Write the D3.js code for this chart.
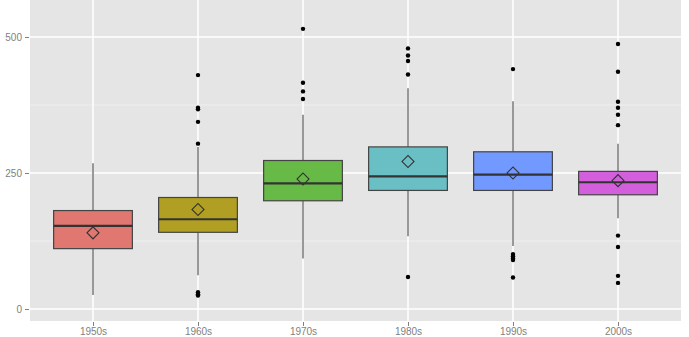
<!DOCTYPE html>
<html>
<head>
<meta charset="utf-8">
<script src="https://cdn.jsdelivr.net/npm/d3@7"></script>
<style>
  body { margin: 0; background: #fff; }
  text { font-family: "Liberation Sans", Arial, sans-serif; }
</style>
</head>
<body>
<div id="chart"></div>
<script>
// data
var decades = ["1950s", "1960s", "1970s", "1980s", "1990s", "2000s"];
var boxColors = ["#E07771", "#B09F22", "#66BA45", "#6ABFC4", "#7199FF", "#D45FDD"];
var lowWhisker = [26, 62, 93, 134, 116, 167];
var q1 = [111, 141, 199, 218, 218, 210];
var medians = [153, 165, 231, 244, 247, 233];
var q3 = [181, 205, 273, 298, 289, 253];
var highWhisker = [268, 298, 357, 406, 382, 304];
var means = [140, 183, 239, 271, 250, 236];
var outliers = [
  [],
  [25, 27, 31, 304, 344, 367, 370, 430],
  [386, 400, 416, 515],
  [59, 431, 456, 466, 479],
  [58, 90, 93, 97, 101, 441],
  [48, 61, 114, 135, 338, 357, 370, 381, 436, 487]
];
var yTicks = [0, 250, 500];
var yMinor = [125, 375];

var width = 689, height = 337;
var margin = {top: 0, right: 8, bottom: 16, left: 30};

var svg = d3.select("#chart").append("svg")
  .attr("width", width)
  .attr("height", height);

var x = d3.scalePoint()
  .domain(decades)
  .range([margin.left, width - margin.right])
  .padding(0.6);

var y = d3.scaleLinear()
  .domain([-22, 568])
  .range([height - margin.bottom, margin.top]);

var boxW = x.step() * 0.75;

// panel background
svg.append("rect")
  .attr("x", margin.left)
  .attr("y", margin.top)
  .attr("width", width - margin.right - margin.left)
  .attr("height", height - margin.bottom - margin.top)
  .attr("fill", "#E5E5E5");

// grid lines
svg.selectAll(".minor")
  .data(yMinor)
  .enter().append("line")
    .attr("x1", margin.left).attr("x2", width - margin.right)
    .attr("y1", function(d) { return y(d); })
    .attr("y2", function(d) { return y(d); })
    .attr("stroke", "#F2F2F2")
    .attr("stroke-width", 0.8);

svg.selectAll(".major")
  .data(yTicks)
  .enter().append("line")
    .attr("x1", margin.left).attr("x2", width - margin.right)
    .attr("y1", function(d) { return y(d); })
    .attr("y2", function(d) { return y(d); })
    .attr("stroke", "#fff")
    .attr("stroke-width", 1.5);

svg.selectAll(".vgrid")
  .data(decades)
  .enter().append("line")
    .attr("x1", function(d) { return x(d); })
    .attr("x2", function(d) { return x(d); })
    .attr("y1", margin.top).attr("y2", height - margin.bottom)
    .attr("stroke", "#fff")
    .attr("stroke-width", 1.5);

// axes
var yAxis = d3.axisLeft(y).tickValues(yTicks).tickSize(4).tickPadding(3);
var gy = svg.append("g")
  .attr("transform", "translate(" + (margin.left - 1) + ",0)")
  .call(yAxis);

var xAxis = d3.axisBottom(x).tickSize(4).tickPadding(2);
var gx = svg.append("g")
  .attr("transform", "translate(0," + (height - margin.bottom + 1) + ")")
  .call(xAxis);

[gx, gy].forEach(function(g) {
  g.select(".domain").remove();
  g.selectAll(".tick line").attr("stroke", "#7F7F7F");
  g.selectAll(".tick text")
    .attr("fill", "#7F7F7F")
    .style("font-size", "10px")
    .style("font-family", "'Liberation Sans', Arial, sans-serif");
});

// boxes
var groups = svg.selectAll(".box")
  .data(decades)
  .enter().append("g")
    .attr("class", "box");

groups.append("line")
  .attr("x1", function(d) { return x(d); })
  .attr("x2", function(d) { return x(d); })
  .attr("y1", function(d, i) { return y(highWhisker[i]); })
  .attr("y2", function(d, i) { return y(q3[i]); })
  .attr("stroke", "#777")
  .attr("stroke-width", 1.5);

groups.append("line")
  .attr("x1", function(d) { return x(d); })
  .attr("x2", function(d) { return x(d); })
  .attr("y1", function(d, i) { return y(q1[i]); })
  .attr("y2", function(d, i) { return y(lowWhisker[i]); })
  .attr("stroke", "#777")
  .attr("stroke-width", 1.5);

groups.append("rect")
  .attr("x", function(d) { return x(d) - boxW / 2; })
  .attr("width", boxW)
  .attr("y", function(d, i) { return y(q3[i]); })
  .attr("height", function(d, i) { return y(q1[i]) - y(q3[i]); })
  .attr("fill", function(d, i) { return boxColors[i]; })
  .attr("stroke", "#444")
  .attr("stroke-width", 1.2);

groups.append("line")
  .attr("x1", function(d) { return x(d) - boxW / 2; })
  .attr("x2", function(d) { return x(d) + boxW / 2; })
  .attr("y1", function(d, i) { return y(medians[i]); })
  .attr("y2", function(d, i) { return y(medians[i]); })
  .attr("stroke", "#333")
  .attr("stroke-width", 2.2);

// outliers
groups.each(function(d, i) {
  d3.select(this).selectAll("circle")
    .data(outliers[i])
    .enter().append("circle")
      .attr("cx", x(d))
      .attr("cy", function(v) { return y(v); })
      .attr("r", 2.2)
      .attr("fill", "#000");
});

// mean diamonds
var diamond = d3.symbol().type(d3.symbolSquare).size(72);
groups.append("path")
  .attr("d", diamond)
  .attr("transform", function(d, i) {
    return "translate(" + x(d) + "," + y(means[i]) + ") rotate(45)";
  })
  .attr("fill", "none")
  .attr("stroke", "#333")
  .attr("stroke-width", 1.1);
</script>
</body>
</html>
